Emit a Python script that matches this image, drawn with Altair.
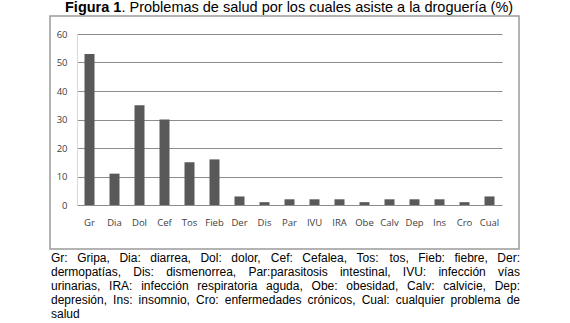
import altair as alt
import pandas as pd

categories = ["Gr", "Dia", "Dol", "Cef", "Tos", "Fieb", "Der", "Dis", "Par",
              "IVU", "IRA", "Obe", "Calv", "Dep", "Ins", "Cro", "Cual"]
values = [53, 11, 35, 30, 15, 16, 3, 1, 2, 2, 2, 1, 2, 2, 2, 1, 3]
y_ticks = [0, 10, 20, 30, 40, 50, 60]

title_bold = "Figura 1"
title_rest = ". Problemas de salud por los cuales asiste a la droguería (%)"
caption_lines = [
    "Gr: Gripa, Dia: diarrea, Dol: dolor, Cef: Cefalea, Tos: tos, Fieb: fiebre, Der:",
    "dermopatías, Dis: dismenorrea, Par:parasitosis intestinal, IVU: infección vías",
    "urinarias, IRA: infección respiratoria aguda, Obe: obesidad, Calv: calvicie, Dep:",
    "depresión, Ins: insomnio, Cro: enfermedades crónicos, Cual: cualquier problema de",
    "salud",
]

# --- layout helpers (Arial / Liberation Sans advance widths, per 1000 em) ---
W = {' ': 278, ',': 278, '.': 278, ':': 278, '(': 333, ')': 333, '%': 889, '-': 333,
     'A': 667, 'B': 667, 'C': 722, 'D': 722, 'E': 667, 'F': 611, 'G': 778, 'H': 722,
     'I': 278, 'J': 500, 'K': 667, 'L': 556, 'M': 833, 'N': 722, 'O': 778, 'P': 667,
     'Q': 778, 'R': 722, 'S': 667, 'T': 611, 'U': 722, 'V': 667, 'W': 944, 'X': 667,
     'Y': 667, 'Z': 611,
     'a': 556, 'b': 556, 'c': 500, 'd': 556, 'e': 556, 'f': 278, 'g': 556, 'h': 556,
     'i': 222, 'j': 222, 'k': 500, 'l': 222, 'm': 833, 'n': 556, 'o': 556, 'p': 556,
     'q': 556, 'r': 333, 's': 500, 't': 278, 'u': 556, 'v': 500, 'w': 722, 'x': 500,
     'y': 500, 'z': 500, 'á': 556, 'é': 556, 'í': 278, 'ó': 556, 'ú': 556, 'ñ': 556}
WB = {'F': 611, 'i': 278, 'g': 611, 'u': 611, 'r': 389, 'a': 556, ' ': 278, '1': 556}


def text_width(s, size, table=W):
    return sum(table.get(ch, 556) for ch in s) * size / 1000.0


CAP_SIZE = 12
CAP_LEFT, CAP_RIGHT = -26, 443
rows = []
for li, line in enumerate(caption_lines):
    words = line.split(" ")
    widths = [text_width(w, CAP_SIZE) for w in words]
    last = li == len(caption_lines) - 1
    if last or len(words) == 1:
        gap = text_width(" ", CAP_SIZE)
    else:
        gap = (CAP_RIGHT - CAP_LEFT - sum(widths)) / (len(words) - 1)
    x = CAP_LEFT
    for w, wd in zip(words, widths):
        rows.append({"word": w, "px": x, "py": 224 + 14 * li})
        x += wd + gap
cap_df = pd.DataFrame(rows)

df = pd.DataFrame({"cat": categories, "val": values})

bars = alt.Chart(df).mark_bar(color="#595959").encode(
    x=alt.X("cat:N", sort=categories,
            scale=alt.Scale(paddingInner=0.6, paddingOuter=0.3),
            axis=alt.Axis(title=None, labelAngle=0, domain=False, ticks=False,
                          labelFont="Open Sans", labelFontSize=9.5,
                          labelColor="#404040", labelPadding=12)),
    y=alt.Y("val:Q", scale=alt.Scale(domain=[0, 60]),
            axis=alt.Axis(values=y_ticks, title=None, domain=True,
                          domainColor="#d9d9d9", domainWidth=1, ticks=False,
                          grid=True, gridColor="#8c8c8c", gridWidth=1,
                          labelFont="Open Sans", labelFontSize=9.5,
                          labelColor="#404040", labelPadding=10)),
)

anchor = alt.Chart(pd.DataFrame({"a": [0]}))

frame = anchor.mark_rect(fillOpacity=0, stroke="#9a9a9a", strokeWidth=1.5).encode(
    x=alt.value(-27), x2=alt.value(442), y=alt.value(-18), y2=alt.value(215))

TITLE_SIZE = 14.5
t_bold = anchor.mark_text(align="left", baseline="middle", font="Liberation Sans",
                          fontSize=TITLE_SIZE, fontWeight="bold", color="black").encode(
    x=alt.value(-12), y=alt.value(-26.5), text=alt.value(title_bold))

t_rest = anchor.mark_text(align="left", baseline="middle", font="Liberation Sans",
                          fontSize=TITLE_SIZE, color="black").encode(
    x=alt.value(-12 + text_width(title_bold, TITLE_SIZE, WB)), y=alt.value(-26.5),
    text=alt.value(title_rest))

caption = alt.Chart(cap_df).mark_text(align="left", baseline="middle",
                                      font="Liberation Sans", fontSize=CAP_SIZE,
                                      color="black").encode(
    x=alt.X("px:Q", scale=None, axis=None),
    y=alt.Y("py:Q", scale=None, axis=None),
    text="word:N")

chart = alt.layer(bars, frame, t_bold, t_rest, caption).resolve_scale(
    x="independent", y="independent"
).properties(
    width=425, height=171,
    padding={"left": 77, "right": 68, "top": 34, "bottom": 118},
    autosize=alt.AutoSizeParams(type="none"),
).configure_view(strokeWidth=0)

chart.save("out.html", embed_options={"renderer": "svg", "actions": False})
